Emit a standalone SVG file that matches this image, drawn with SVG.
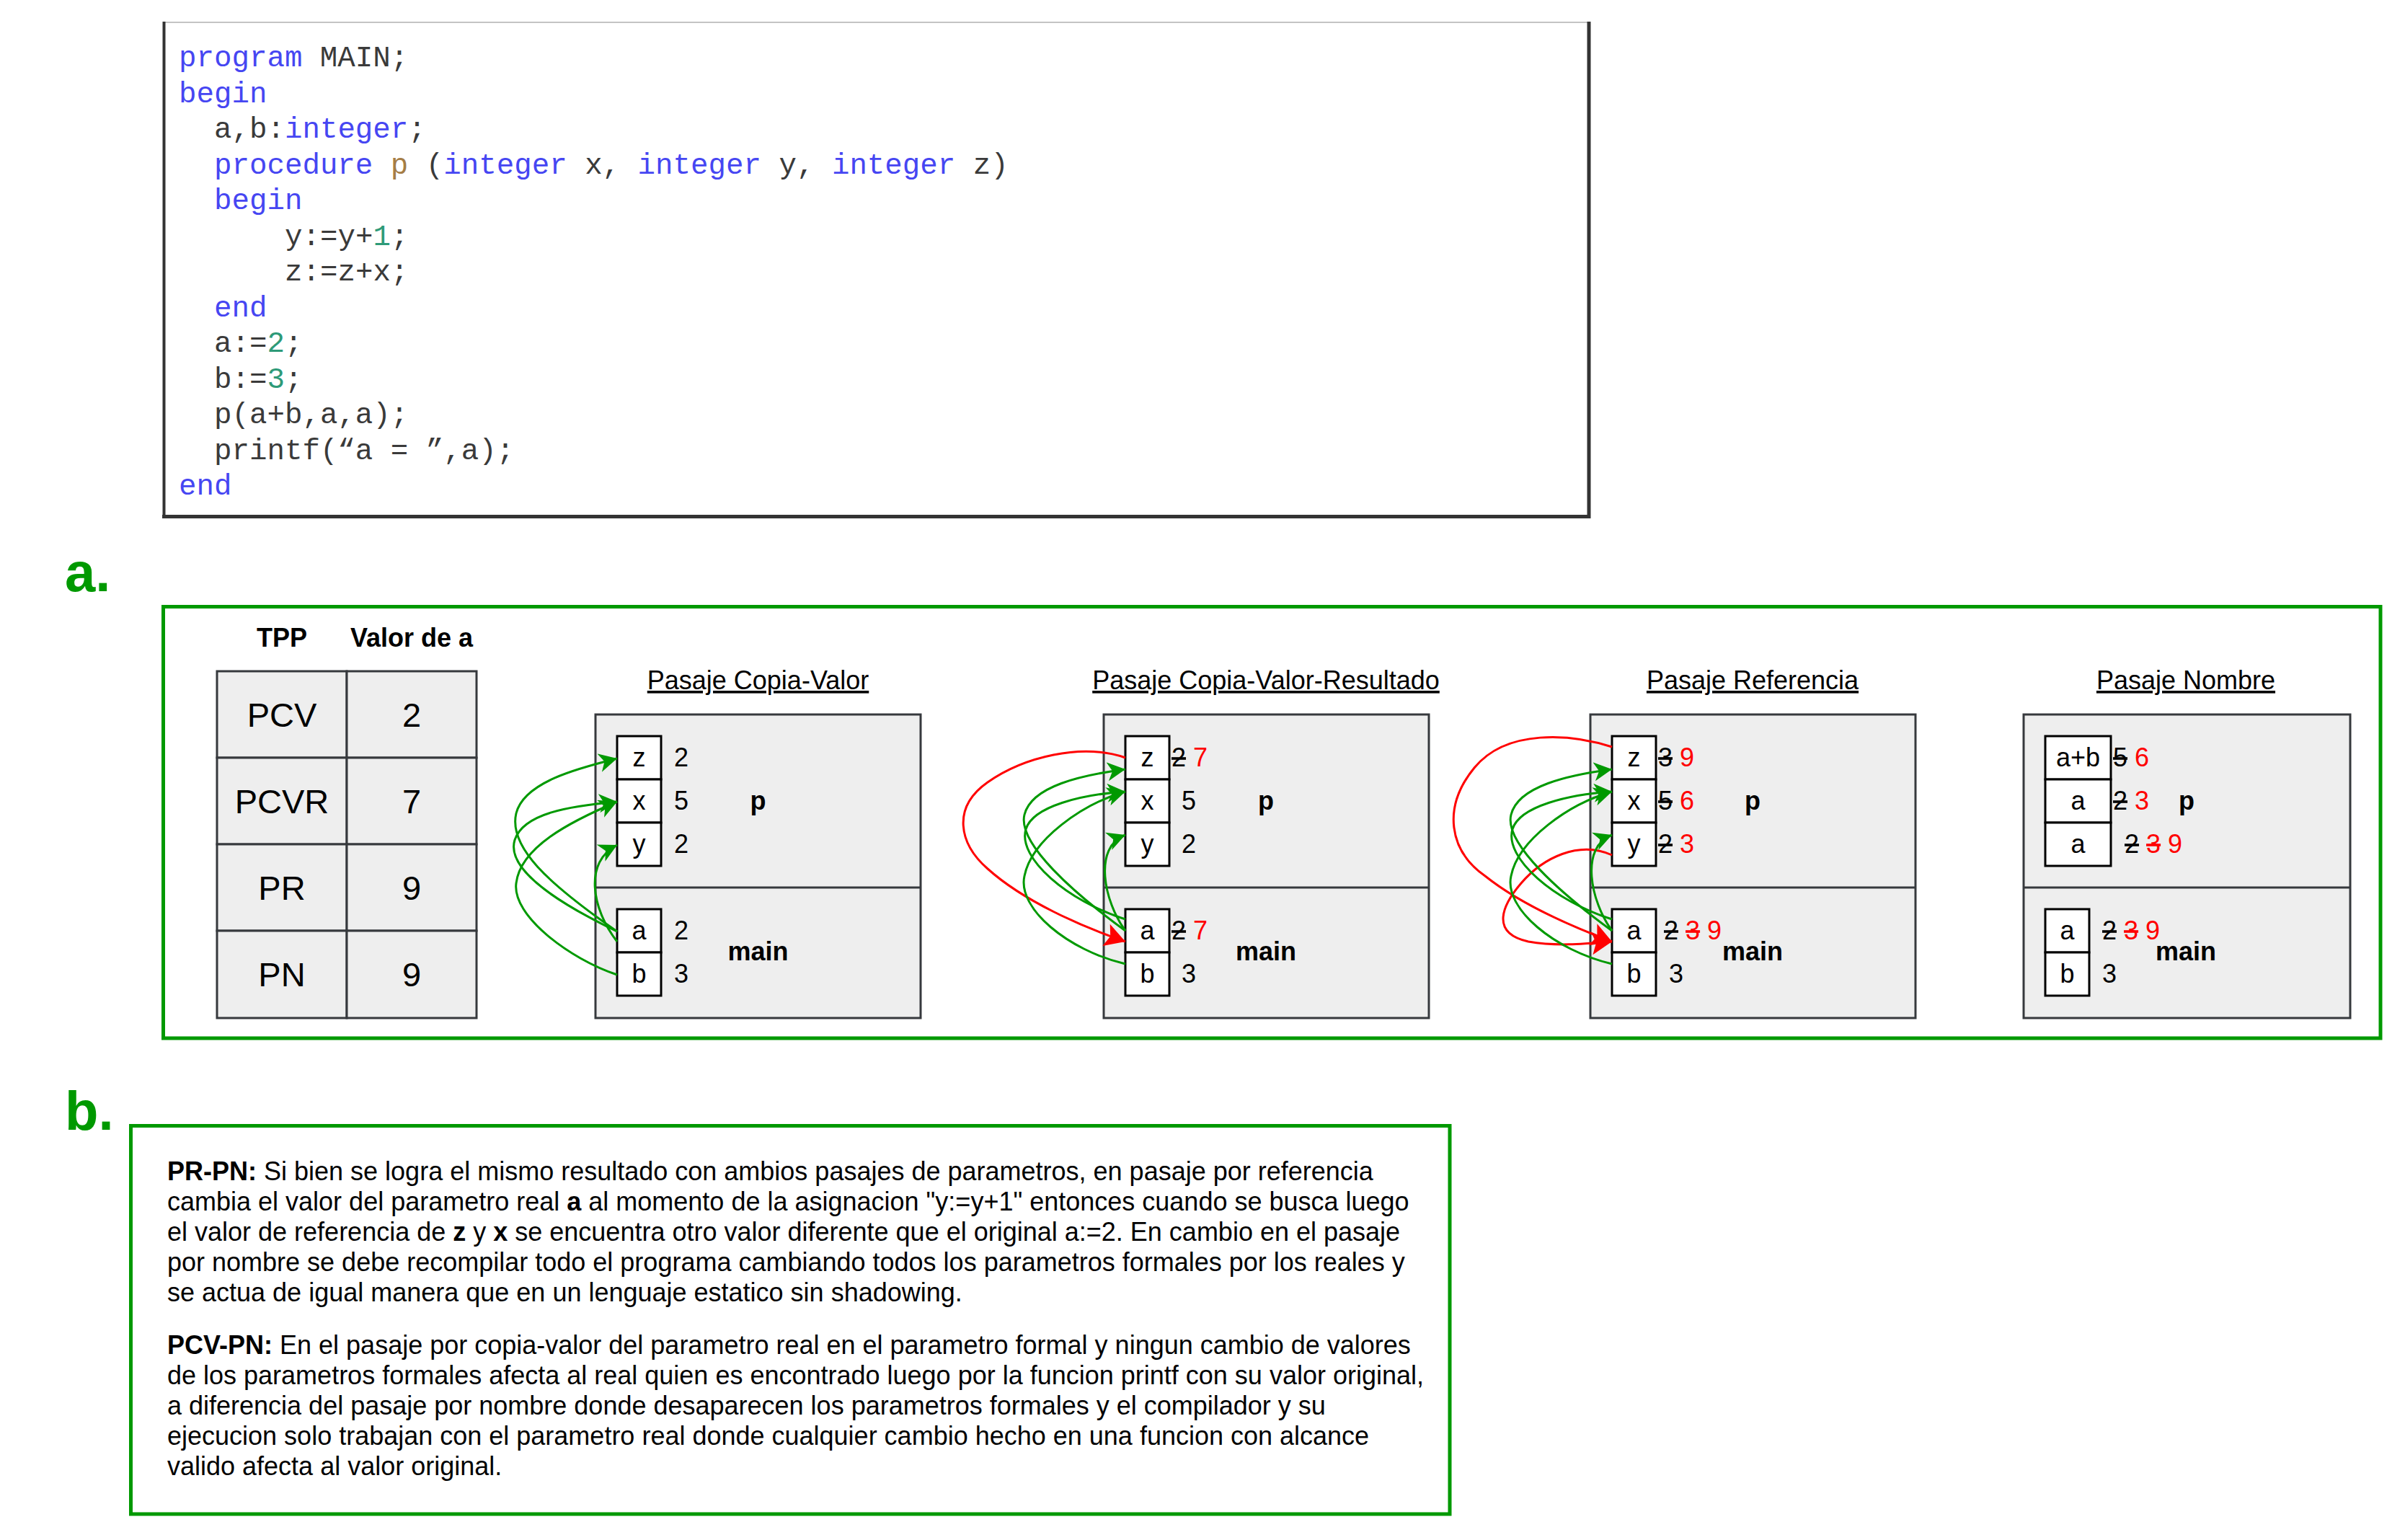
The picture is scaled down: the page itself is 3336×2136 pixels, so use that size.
<svg xmlns="http://www.w3.org/2000/svg" width="3336" height="2136" viewBox="0 0 3336 2136">
<style>
.mono{font-family:"Liberation Mono","Courier New",monospace;font-size:40.8px;fill:#3a3a3a;white-space:pre}
.kw{fill:#4646f2}
.num{fill:#2e9a78}
.fn{fill:#a57d45}
.sans{font-family:"Liberation Sans",Arial,sans-serif;fill:#000}
.t35{font-size:36px}
.t46{font-size:47px}
.bold{font-weight:bold}
.mid{text-anchor:middle}
.ul{text-decoration:underline}
.cell{fill:#fff;stroke:#000;stroke-width:3}
.frame{fill:#eeeeee;stroke:#36393d;stroke-width:3}
.gbox{fill:#fff;stroke:#009900;stroke-width:5}
.gl{fill:none;stroke:#009900;stroke-width:3;marker-end:url(#ag)}
.rl{fill:none;stroke:#ff0000;stroke-width:3;marker-end:url(#ar)}
.s{text-decoration:line-through}
.r{fill:#ff0000}
.lbl{font-family:"Liberation Sans",Arial,sans-serif;font-weight:bold;font-size:76px;fill:#009900}
</style>
<defs>
<marker id="ag" markerUnits="userSpaceOnUse" markerWidth="30" markerHeight="30" refX="25" refY="13" orient="auto">
<path d="M0,0 L25,13 L0,26 L7,13 Z" fill="#009900"/>
</marker>
<marker id="ar" markerUnits="userSpaceOnUse" markerWidth="34" markerHeight="36" refX="28" refY="16" orient="auto">
<path d="M0,0 L28,16 L0,32 L6,16 Z" fill="#ff0000"/>
</marker>
</defs>
<rect width="3336" height="2136" fill="#fff"/>

<g id="code">
<rect x="227" y="31" width="1977" height="686" fill="#fff"/>
<line x1="226" y1="31" x2="2204" y2="31" stroke="#c4c4c4" stroke-width="2"/>
<line x1="227.5" y1="30" x2="227.5" y2="718" stroke="#333" stroke-width="4"/>
<line x1="2204" y1="30" x2="2204" y2="719" stroke="#333" stroke-width="5"/>
<line x1="225" y1="716.5" x2="2206" y2="716.5" stroke="#333" stroke-width="5"/>
<g class="mono">
<text xml:space="preserve" x="248" y="92"><tspan class="kw">program</tspan> MAIN;</text>
<text xml:space="preserve" x="248" y="141.5"><tspan class="kw">begin</tspan></text>
<text xml:space="preserve" x="297" y="191">a,b:<tspan class="kw">integer</tspan>;</text>
<text xml:space="preserve" x="297" y="240.5"><tspan class="kw">procedure</tspan> <tspan class="fn">p</tspan> (<tspan class="kw">integer</tspan> x, <tspan class="kw">integer</tspan> y, <tspan class="kw">integer</tspan> z)</text>
<text xml:space="preserve" x="297" y="290"><tspan class="kw">begin</tspan></text>
<text xml:space="preserve" x="395" y="339.5">y:=y+<tspan class="num">1</tspan>;</text>
<text xml:space="preserve" x="395" y="389">z:=z+x;</text>
<text xml:space="preserve" x="297" y="438.5"><tspan class="kw">end</tspan></text>
<text xml:space="preserve" x="297" y="488">a:=<tspan class="num">2</tspan>;</text>
<text xml:space="preserve" x="297" y="537.5">b:=<tspan class="num">3</tspan>;</text>
<text xml:space="preserve" x="297" y="587">p(a+b,a,a);</text>
<text xml:space="preserve" x="297" y="636.5">printf(“a = ”,a);</text>
<text xml:space="preserve" x="248" y="686"><tspan class="kw">end</tspan></text>
</g>
</g>

<g id="label-a"><text class="lbl" x="90" y="820">a.</text></g>

<g id="box-a"><rect class="gbox" x="226.5" y="841.5" width="3075.5" height="598.5"/></g>

<g id="table">
<text class="sans t35 bold mid" x="391" y="897">TPP</text>
<text class="sans t35 bold mid" x="571" y="897">Valor de a</text>
<rect class="frame" x="301" y="931" width="180" height="120"/>
<rect class="frame" x="481" y="931" width="180" height="120"/>
<rect class="frame" x="301" y="1051" width="180" height="120"/>
<rect class="frame" x="481" y="1051" width="180" height="120"/>
<rect class="frame" x="301" y="1171" width="180" height="120"/>
<rect class="frame" x="481" y="1171" width="180" height="120"/>
<rect class="frame" x="301" y="1291" width="180" height="121"/>
<rect class="frame" x="481" y="1291" width="180" height="121"/>
<text class="sans t46 mid" x="391" y="1008">PCV</text>
<text class="sans t46 mid" x="571" y="1008">2</text>
<text class="sans t46 mid" x="391" y="1128">PCVR</text>
<text class="sans t46 mid" x="571" y="1128">7</text>
<text class="sans t46 mid" x="391" y="1248">PR</text>
<text class="sans t46 mid" x="571" y="1248">9</text>
<text class="sans t46 mid" x="391" y="1368">PN</text>
<text class="sans t46 mid" x="571" y="1368">9</text>
</g>

<g id="pasaje-copia-valor">
<text class="sans t35 mid ul" x="1051.5" y="956">Pasaje Copia-Valor</text>
<rect class="frame" x="826" y="991" width="451" height="421"/>
<line x1="826" y1="1231" x2="1277" y2="1231" stroke="#36393d" stroke-width="3"/>
<rect class="cell" x="856" y="1021" width="61" height="60"/>
<rect class="cell" x="856" y="1081" width="61" height="60"/>
<rect class="cell" x="856" y="1141" width="61" height="60"/>
<rect class="cell" x="856" y="1261" width="61" height="60"/>
<rect class="cell" x="856" y="1321" width="61" height="60"/>
<g class="sans t35 mid">
<text x="886.5" y="1063">z</text><text x="886.5" y="1123">x</text><text x="886.5" y="1183">y</text>
<text x="886.5" y="1303">a</text><text x="886.5" y="1363">b</text>
<text x="945" y="1063">2</text><text x="945" y="1123">5</text><text x="945" y="1183">2</text>
<text x="945" y="1303">2</text><text x="945" y="1363">3</text>
<text class="bold" x="1051.5" y="1123">p</text>
<text class="bold" x="1051.5" y="1332">main</text>
</g>
</g>

<g id="pasaje-copia-valor-resultado">
<text class="sans t35 mid ul" x="1756" y="956">Pasaje Copia-Valor-Resultado</text>
<rect class="frame" x="1531" y="991" width="451" height="421"/>
<line x1="1531" y1="1231" x2="1982" y2="1231" stroke="#36393d" stroke-width="3"/>
<rect class="cell" x="1561" y="1021" width="61" height="60"/>
<rect class="cell" x="1561" y="1081" width="61" height="60"/>
<rect class="cell" x="1561" y="1141" width="61" height="60"/>
<rect class="cell" x="1561" y="1261" width="61" height="60"/>
<rect class="cell" x="1561" y="1321" width="61" height="60"/>
<g class="sans t35">
<text class="mid" x="1591.5" y="1063">z</text><text class="mid" x="1591.5" y="1123">x</text><text class="mid" x="1591.5" y="1183">y</text>
<text class="mid" x="1591.5" y="1303">a</text><text class="mid" x="1591.5" y="1363">b</text>
<text x="1625" y="1063"><tspan class="s">2</tspan> <tspan class="r">7</tspan></text>
<text class="mid" x="1649" y="1123">5</text>
<text class="mid" x="1649" y="1183">2</text>
<text x="1625" y="1303"><tspan class="s">2</tspan> <tspan class="r">7</tspan></text>
<text class="mid" x="1649" y="1363">3</text>
<text class="bold mid" x="1756" y="1123">p</text>
<text class="bold mid" x="1756" y="1332">main</text>
</g>
</g>

<g id="pasaje-referencia">
<text class="sans t35 mid ul" x="2431" y="956">Pasaje Referencia</text>
<rect class="frame" x="2206" y="991" width="451" height="421"/>
<line x1="2206" y1="1231" x2="2657" y2="1231" stroke="#36393d" stroke-width="3"/>
<rect class="cell" x="2236" y="1021" width="61" height="60"/>
<rect class="cell" x="2236" y="1081" width="61" height="60"/>
<rect class="cell" x="2236" y="1141" width="61" height="60"/>
<rect class="cell" x="2236" y="1261" width="61" height="60"/>
<rect class="cell" x="2236" y="1321" width="61" height="60"/>
<g class="sans t35">
<text class="mid" x="2266.5" y="1063">z</text><text class="mid" x="2266.5" y="1123">x</text><text class="mid" x="2266.5" y="1183">y</text>
<text class="mid" x="2266.5" y="1303">a</text><text class="mid" x="2266.5" y="1363">b</text>
<text x="2300" y="1063"><tspan class="s">3</tspan> <tspan class="r">9</tspan></text>
<text x="2300" y="1123"><tspan class="s">5</tspan> <tspan class="r">6</tspan></text>
<text x="2300" y="1183"><tspan class="s">2</tspan> <tspan class="r">3</tspan></text>
<text x="2308" y="1303"><tspan class="s">2</tspan> <tspan class="r s">3</tspan> <tspan class="r">9</tspan></text>
<text class="mid" x="2325" y="1363">3</text>
<text class="bold mid" x="2431" y="1123">p</text>
<text class="bold mid" x="2431" y="1332">main</text>
</g>
</g>

<g id="pasaje-nombre">
<text class="sans t35 mid ul" x="3032" y="956">Pasaje Nombre</text>
<rect class="frame" x="2807" y="991" width="453" height="421"/>
<line x1="2807" y1="1231" x2="3260" y2="1231" stroke="#36393d" stroke-width="3"/>
<rect class="cell" x="2837" y="1021" width="91" height="60"/>
<rect class="cell" x="2837" y="1081" width="91" height="60"/>
<rect class="cell" x="2837" y="1141" width="91" height="60"/>
<rect class="cell" x="2837" y="1261" width="61" height="60"/>
<rect class="cell" x="2837" y="1321" width="61" height="60"/>
<g class="sans t35">
<text class="mid" x="2882.5" y="1063">a+b</text><text class="mid" x="2882.5" y="1123">a</text><text class="mid" x="2882.5" y="1183">a</text>
<text class="mid" x="2867.5" y="1303">a</text><text class="mid" x="2867.5" y="1363">b</text>
<text x="2931" y="1063"><tspan class="s">5</tspan> <tspan class="r">6</tspan></text>
<text x="2931" y="1123"><tspan class="s">2</tspan> <tspan class="r">3</tspan></text>
<text x="2947" y="1183"><tspan class="s">2</tspan> <tspan class="r s">3</tspan> <tspan class="r">9</tspan></text>
<text x="2916" y="1303"><tspan class="s">2</tspan> <tspan class="r s">3</tspan> <tspan class="r">9</tspan></text>
<text class="mid" x="2926" y="1363">3</text>
<text class="bold mid" x="3033" y="1123">p</text>
<text class="bold mid" x="3032" y="1332">main</text>
</g>
</g>

<g id="connectors">
<path class="gl" d="M856,1292 C760,1225 705,1175 716,1128 C727,1085 800,1066 856,1052"/>
<path class="gl" d="M856,1292 C790,1260 700,1210 714,1165 C726,1128 790,1118 856,1112"/>
<path class="gl" d="M856,1352 C790,1330 710,1270 716,1225 C722,1175 790,1140 856,1112"/>
<path class="gl" d="M856,1306 C820,1260 810,1195 856,1172"/>

<path class="rl" d="M1561,1051 C1500,1030 1420,1050 1370,1085 C1320,1120 1330,1170 1370,1205 C1420,1250 1500,1285 1561,1306"/>
<path class="gl" d="M1561,1291 C1491,1240 1411,1170 1421,1130 C1431,1090 1501,1075 1561,1067"/>
<path class="gl" d="M1561,1275 C1481,1250 1411,1190 1423,1150 C1433,1118 1501,1102 1561,1098"/>
<path class="gl" d="M1561,1337 C1481,1318 1411,1260 1421,1215 C1431,1165 1501,1115 1561,1098"/>
<path class="gl" d="M1561,1291 C1531,1250 1516,1175 1561,1158"/>

<path class="rl" d="M2236,1036 C2180,1018 2090,1010 2045,1065 C2000,1120 2010,1180 2060,1215 C2110,1255 2180,1285 2236,1306"/>
<path class="rl" d="M2236,1186 C2190,1165 2140,1190 2110,1225 C2080,1260 2070,1295 2120,1306 C2160,1313 2200,1309 2236,1306"/>
<path class="gl" d="M2236,1291 C2166,1240 2086,1170 2096,1130 C2106,1090 2176,1075 2236,1067"/>
<path class="gl" d="M2236,1275 C2156,1250 2086,1190 2098,1150 C2108,1118 2176,1102 2236,1098"/>
<path class="gl" d="M2236,1337 C2156,1318 2086,1260 2096,1215 C2106,1165 2176,1115 2236,1098"/>
<path class="gl" d="M2236,1291 C2206,1250 2191,1175 2236,1158"/>
</g>

<g id="label-b"><text class="lbl" x="90" y="1567">b.</text></g>

<g id="box-b">
<rect class="gbox" x="181.5" y="1561.5" width="1829.5" height="538.5"/>
<g class="sans t35">
<text x="232" y="1637"><tspan class="bold">PR-PN:</tspan> Si bien se logra el mismo resultado con ambios pasajes de parametros, en pasaje por referencia</text>
<text x="232" y="1679">cambia el valor del parametro real <tspan class="bold">a</tspan> al momento de la asignacion "y:=y+1" entonces cuando se busca luego</text>
<text x="232" y="1721">el valor de referencia de <tspan class="bold">z</tspan> y <tspan class="bold">x</tspan> se encuentra otro valor diferente que el original a:=2. En cambio en el pasaje</text>
<text x="232" y="1763">por nombre se debe recompilar todo el programa cambiando todos los parametros formales por los reales y</text>
<text x="232" y="1805">se actua de igual manera que en un lenguaje estatico sin shadowing.</text>
<text x="232" y="1878"><tspan class="bold">PCV-PN:</tspan> En el pasaje por copia-valor del parametro real en el parametro formal y ningun cambio de valores</text>
<text x="232" y="1920">de los parametros formales afecta al real quien es encontrado luego por la funcion printf con su valor original,</text>
<text x="232" y="1962">a diferencia del pasaje por nombre donde desaparecen los parametros formales y el compilador y su</text>
<text x="232" y="2004">ejecucion solo trabajan con el parametro real donde cualquier cambio hecho en una funcion con alcance</text>
<text x="232" y="2046">valido afecta al valor original.</text>
</g>
</g>
</svg>
